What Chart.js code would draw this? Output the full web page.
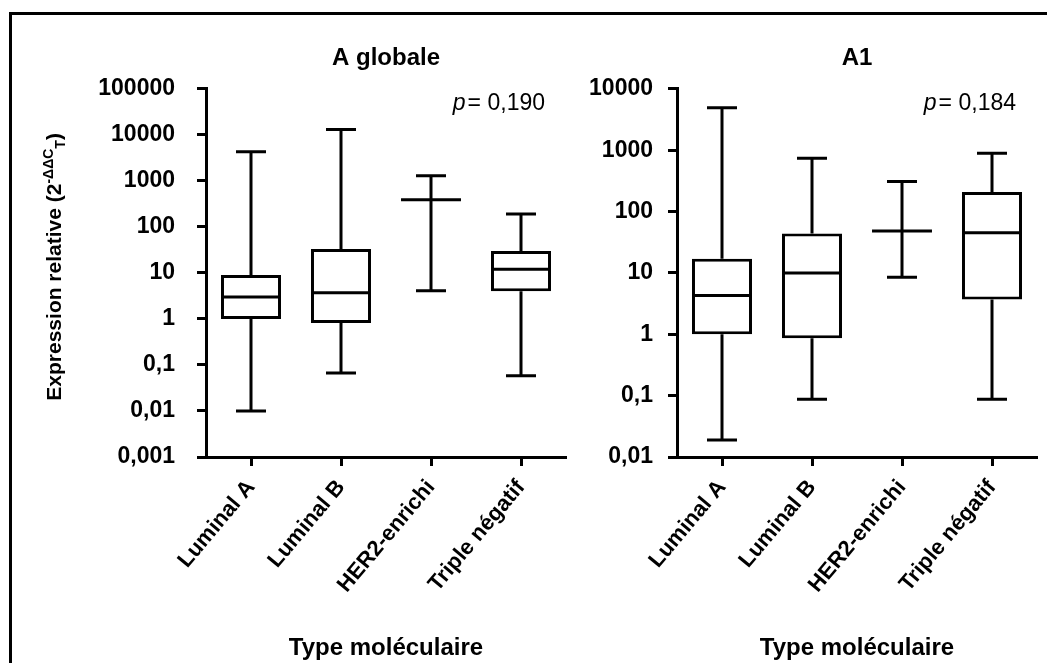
<!DOCTYPE html>
<html>
<head>
<meta charset="utf-8">
<script src="https://cdn.jsdelivr.net/npm/chart.js@4.4.1/dist/chart.umd.min.js"></script>
<style>
html,body{margin:0;padding:0;background:#fff;}
#wrap{position:relative;width:1047px;height:663px;overflow:hidden;background:#fff;}
#frame{position:absolute;left:9px;top:12px;right:-10px;bottom:-10px;border-top:3px solid #000;border-left:3px solid #000;}
#leftBox{position:absolute;left:0;top:0;width:575px;height:663px;}
#rightBox{position:absolute;left:575px;top:0;width:472px;height:663px;}
</style>
</head>
<body>
<div id="wrap">
  <div id="frame"></div>
  <div id="leftBox"><canvas id="chartGlobal"></canvas></div>
  <div id="rightBox"><canvas id="chartA1"></canvas></div>
</div>
<script>
// categories
const categories = ['Luminal A', 'Luminal B', 'HER2-enrichi', 'Triple négatif'];

// A globale : min / Q1 / mediane / Q3 / max
const globalMin    = [0.01, 0.067, 4.1, 0.058];
const globalQ1     = [1.0, 0.82, 390, 4.0];
const globalMedian = [3.0, 3.7, 390, 12];
const globalQ3     = [9.0, 33, 390, 30];
const globalMax    = [4300, 13000, 1290, 190];

// A1
const a1Min    = [0.019, 0.087, 8.5, 0.087];
const a1Q1     = [1.0, 0.86, 48, 3.7];
const a1Median = [4.3, 10, 48, 45];
const a1Q3     = [17, 44, 48, 208];
const a1Max    = [4900, 740, 310, 890];

// ticks
const globalTickValues = [0.001, 0.01, 0.1, 1, 10, 100, 1000, 10000, 100000];
const globalTickLabels = ['0,001', '0,01', '0,1', '1', '10', '100', '1000', '10000', '100000'];
const a1TickValues = [0.01, 0.1, 1, 10, 100, 1000, 10000];
const a1TickLabels = ['0,01', '0,1', '1', '10', '100', '1000', '10000'];

const FONT = '"Liberation Sans", Arial, Helvetica, sans-serif';
Chart.defaults.font.family = FONT;
Chart.defaults.color = '#000';

const boxWhiskers = {
  id: 'boxWhiskers',
  afterDatasetsDraw(chart, args, opts){
    const x = chart.scales.x, y = chart.scales.y, ctx = chart.ctx;
    const step = x.getPixelForValue(1) - x.getPixelForValue(0);
    const halfBox = step * 0.333, halfCap = 15;
    ctx.save();
    ctx.strokeStyle = '#000';
    ctx.lineWidth = 3;
    ctx.lineCap = 'butt';
    opts.median.forEach((m, i) => {
      const cx = x.getPixelForValue(i);
      const yMin = y.getPixelForValue(opts.min[i]), yMax = y.getPixelForValue(opts.max[i]);
      const yQ1 = y.getPixelForValue(opts.q1[i]), yQ3 = y.getPixelForValue(opts.q3[i]);
      const yMed = y.getPixelForValue(m);
      ctx.beginPath();
      ctx.moveTo(cx, yQ3); ctx.lineTo(cx, yMax);
      ctx.moveTo(cx, yQ1); ctx.lineTo(cx, yMin);
      ctx.moveTo(cx - halfCap, yMax); ctx.lineTo(cx + halfCap, yMax);
      ctx.moveTo(cx - halfCap, yMin); ctx.lineTo(cx + halfCap, yMin);
      ctx.moveTo(cx - halfBox, yMed); ctx.lineTo(cx + halfBox, yMed);
      ctx.stroke();
    });
    // p value
    const a = chart.chartArea;
    ctx.fillStyle = '#000';
    ctx.textBaseline = 'middle';
    ctx.textAlign = 'left';
    ctx.font = '23px ' + FONT;
    const rest = '= ' + opts.pValue;
    const restW = ctx.measureText(rest).width;
    ctx.font = 'italic 23px ' + FONT;
    const pW = ctx.measureText('p').width;
    const x0 = a.right - 21 - restW - pW - 2;
    const yp = a.top + 15;
    ctx.fillText('p', x0, yp);
    ctx.font = '23px ' + FONT;
    ctx.fillText(rest, x0 + pW + 2, yp);
    ctx.restore();
  }
};

const yAxisTitle = {
  id: 'yAxisTitle',
  afterDraw(chart, args, opts){
    if (!opts.show) return;
    const ctx = chart.ctx, a = chart.chartArea;
    const parts = [
      { t: 'Expression relative (2', f: 'bold 21px ' + FONT, dy: 0 },
      { t: '-ΔΔC', f: 'bold 14px ' + FONT, dy: -8 },
      { t: 'T', f: 'bold 14px ' + FONT, dy: 4 },
      { t: ')', f: 'bold 21px ' + FONT, dy: 0 }
    ];
    ctx.save();
    let total = 0;
    parts.forEach(p => { ctx.font = p.f; p.w = ctx.measureText(p.t).width; total += p.w; });
    ctx.translate(a.left - 152, (a.top + a.bottom) / 2 - 6);
    ctx.rotate(-Math.PI / 2);
    ctx.fillStyle = '#000';
    ctx.textBaseline = 'alphabetic';
    ctx.textAlign = 'left';
    let cx = -total / 2;
    parts.forEach(p => { ctx.font = p.f; ctx.fillText(p.t, cx, 7 + p.dy); cx += p.w; });
    ctx.restore();
  }
};

function buildBoxChart(canvasId, cfg){
  const boxes = categories.map((c, i) => cfg.q1[i] === cfg.q3[i] ? null : [cfg.q1[i], cfg.q3[i]]);
  return new Chart(document.getElementById(canvasId).getContext('2d'), {
    type: 'bar',
    data: { labels: categories, datasets: [
      { label: cfg.title, data: boxes, backgroundColor: '#fff', borderColor: '#000', borderWidth: 3,
        borderSkipped: false, barPercentage: 0.667, categoryPercentage: 1.0 }
    ]},
    options: {
      responsive: true, maintainAspectRatio: false, animation: false,
      layout: { padding: { left: 0, right: cfg.padRight, top: 0, bottom: 0 } },
      plugins: {
        legend: { display: false },
        tooltip: { enabled: false },
        title: { display: true, text: cfg.title, fullSize: false, color: '#000',
          font: { size: 24, weight: 'bold' }, padding: { top: 44, bottom: 16 } },
        boxWhiskers: { min: cfg.min, q1: cfg.q1, median: cfg.median, q3: cfg.q3, max: cfg.max, pValue: cfg.pValue },
        yAxisTitle: { show: cfg.yTitle }
      },
      scales: {
        x: {
          type: 'category', offset: true,
          border: { display: true, width: 3, color: '#000' },
          grid: { display: true, offset: false, drawOnChartArea: false, drawTicks: true, tickLength: 9, tickWidth: 3, tickColor: '#000' },
          ticks: { autoSkip: false, minRotation: 50, maxRotation: 50, padding: 9, color: '#000', font: { size: 22, weight: 'bold' } },
          title: { display: true, text: 'Type moléculaire', color: '#000', font: { size: 24, weight: 'bold' }, padding: { top: 0, bottom: 0 } },
          afterFit: s => { s.height = 206; }
        },
        y: {
          type: 'logarithmic', min: cfg.tickValues[0], max: cfg.tickValues[cfg.tickValues.length - 1],
          border: { display: true, width: 3, color: '#000' },
          grid: { display: true, drawOnChartArea: false, drawTicks: true, tickLength: 9, tickWidth: 3, tickColor: '#000' },
          afterBuildTicks: s => { s.ticks = cfg.tickValues.map(v => ({ value: v })); },
          ticks: { padding: cfg.tickPad, color: '#000', font: { size: 23, weight: 'bold' },
            callback: v => cfg.tickLabels[cfg.tickValues.indexOf(v)] },
          afterFit: s => { s.width = cfg.yWidth; }
        }
      }
    },
    plugins: [boxWhiskers, yAxisTitle]
  });
}

buildBoxChart('chartGlobal', {
  title: 'A globale', min: globalMin, q1: globalQ1, median: globalMedian, q3: globalQ3, max: globalMax,
  tickValues: globalTickValues, tickLabels: globalTickLabels, pValue: '0,190',
  yWidth: 206, tickPad: 22, padRight: 9, yTitle: true
});
buildBoxChart('chartA1', {
  title: 'A1', min: a1Min, q1: a1Q1, median: a1Median, q3: a1Q3, max: a1Max,
  tickValues: a1TickValues, tickLabels: a1TickLabels, pValue: '0,184',
  yWidth: 102, tickPad: 15, padRight: 10, yTitle: false
});
</script>
</body>
</html>
